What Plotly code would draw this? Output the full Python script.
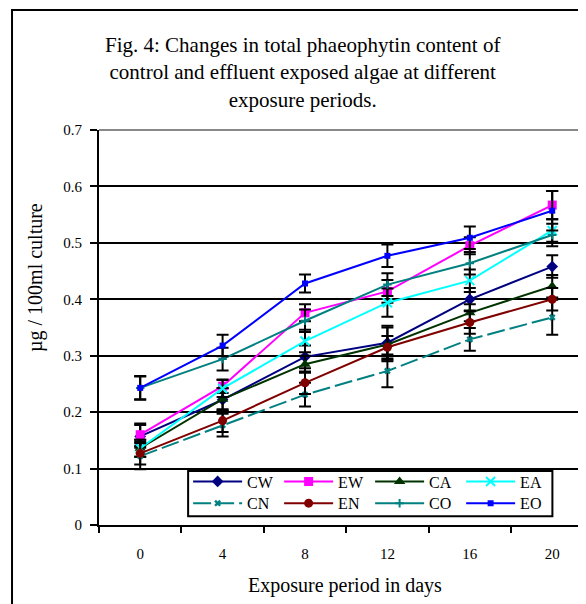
import plotly.graph_objects as go

days = ["0", "4", "8", "12", "16", "20"]
y_ticks = [0, 0.1, 0.2, 0.3, 0.4, 0.5, 0.6, 0.7]

CW = [0.157, 0.222, 0.298, 0.323, 0.400, 0.458]
EW = [0.160, 0.246, 0.376, 0.414, 0.495, 0.567]
CA = [0.136, 0.223, 0.285, 0.320, 0.376, 0.423]
EA = [0.136, 0.242, 0.326, 0.394, 0.433, 0.522]
CN = [0.122, 0.177, 0.231, 0.273, 0.329, 0.368]
EN = [0.127, 0.185, 0.252, 0.315, 0.359, 0.400]
CO = [0.243, 0.294, 0.362, 0.426, 0.464, 0.514]
EO = [0.243, 0.318, 0.428, 0.477, 0.509, 0.557]

CW_err = [0.020, 0.020, 0.020, 0.030, 0.020, 0.020]
EW_err = [0.020, 0.012, 0.015, 0.020, 0.015, 0.025]
CA_err = [0.015, 0.020, 0.015, 0.030, 0.015, 0.020]
EA_err = [0.015, 0.015, 0.020, 0.025, 0.020, 0.020]
CN_err = [0.023, 0.020, 0.021, 0.029, 0.020, 0.031]
EN_err = [0.020, 0.020, 0.020, 0.020, 0.020, 0.020]
CO_err = [0.020, 0.020, 0.020, 0.020, 0.020, 0.020]
EO_err = [0.021, 0.019, 0.016, 0.020, 0.020, 0.035]

FONT = "Liberation Serif, Times New Roman, serif"

series = [
    ("CW", CW, CW_err, "#000080", "diamond", 9, "solid", "legend"),
    ("EW", EW, EW_err, "#FF00FF", "square", 9, "solid", "legend"),
    ("CA", CA, CA_err, "#003300", "triangle-up", 10, "solid", "legend"),
    ("EA", EA, EA_err, "#00FFFF", "x-thin", 9, "solid", "legend"),
    ("CN", CN, CN_err, "#008080", "x", 6, "18px,5px", "legend2"),
    ("EN", EN, EN_err, "#800000", "circle", 9, "solid", "legend2"),
    ("CO", CO, CO_err, "#008080", "cross-thin", 6, "solid", "legend2"),
    ("EO", EO, EO_err, "#0000FF", "square", 6, "solid", "legend2"),
]

fig = go.Figure()
for name, vals, err, color, sym, size, dash, leg in series:
    fig.add_trace(go.Scatter(
        x=days, y=vals, name=name, mode="lines+markers",
        line=dict(color=color, width=2, dash=dash),
        marker=dict(symbol=sym, size=size, color=color,
                    line=dict(color=color, width=2 if "thin" in sym else 0)),
        error_y=dict(type="data", array=err, visible=True, color="black",
                     thickness=2, width=6),
        legend=leg,
    ))

legend_common = dict(
    orientation="h", xanchor="left", yanchor="top",
    bgcolor="rgba(0,0,0,0)", borderwidth=0,
    font=dict(family=FONT, size=16, color="black"),
    itemwidth=49, entrywidth=27, tracegroupgap=0,
)

# the page body adds an 8px offset, so the figure is 8px smaller than the window
fig.update_layout(
    width=578, height=596,
    margin=dict(l=91, r=0, t=122, b=79),
    paper_bgcolor="white", plot_bgcolor="white",
    font=dict(family=FONT, color="black"),
    showlegend=True,
    legend=dict(x=0.183, y=0.153, **legend_common),
    legend2=dict(x=0.183, y=0.098, **legend_common),
    xaxis=dict(
        type="category", range=[-0.5, 5.41], tickson="boundaries",
        showgrid=False, showline=True, linecolor="black", linewidth=2,
        ticks="outside", ticklen=6, tickwidth=2, tickcolor="black",
        tickfont=dict(family=FONT, size=15, color="black"),
        ticklabelstandoff=14, zeroline=False,
    ),
    yaxis=dict(
        range=[0, 0.7], tickvals=y_ticks, ticktext=[f"{v:g}" for v in y_ticks],
        showgrid=True, gridcolor="black", gridwidth=2,
        showline=True, linecolor="black", linewidth=2,
        ticks="outside", ticklen=7, tickwidth=2, tickcolor="black",
        tickfont=dict(family=FONT, size=15, color="black"),
        ticklabelstandoff=5, zeroline=False,
    ),
    shapes=[
        dict(type="rect", xref="paper", yref="paper",
             x0=-0.1786, x1=1.1, y0=-0.4, y1=1.3038,
             line=dict(color="black", width=2), fillcolor="rgba(0,0,0,0)",
             layer="below"),
        dict(type="line", xref="paper", yref="paper", x0=0, x1=1, y0=1, y1=1,
             line=dict(color="#888888", width=2)),
        dict(type="rect", xref="paper", yref="paper",
             x0=0.183, x1=0.931, y0=0.022, y1=0.137,
             line=dict(color="black", width=2), fillcolor="white",
             layer="above"),
    ],
    annotations=[
        dict(text="Fig. 4: Changes in total phaeophytin content of<br>control and effluent exposed algae at different<br>exposure periods.",
             xref="paper", yref="paper", x=(302 - 99) / 487, y=(525 - 73) / 395,
             xanchor="center", yanchor="middle", showarrow=False,
             font=dict(family=FONT, size=21, color="black")),
        dict(text="µg / 100ml culture", textangle=-90,
             xref="paper", yref="paper", x=(35 - 99) / 487, y=(525 - 278) / 395,
             xanchor="center", yanchor="middle", showarrow=False,
             font=dict(family=FONT, size=20, color="black")),
        dict(text="Exposure period in days",
             xref="paper", yref="paper", x=(345 - 99) / 487, y=(525 - 585) / 395,
             xanchor="center", yanchor="middle", showarrow=False,
             font=dict(family=FONT, size=20, color="black")),
    ],
)

fig.write_html("out.html")
